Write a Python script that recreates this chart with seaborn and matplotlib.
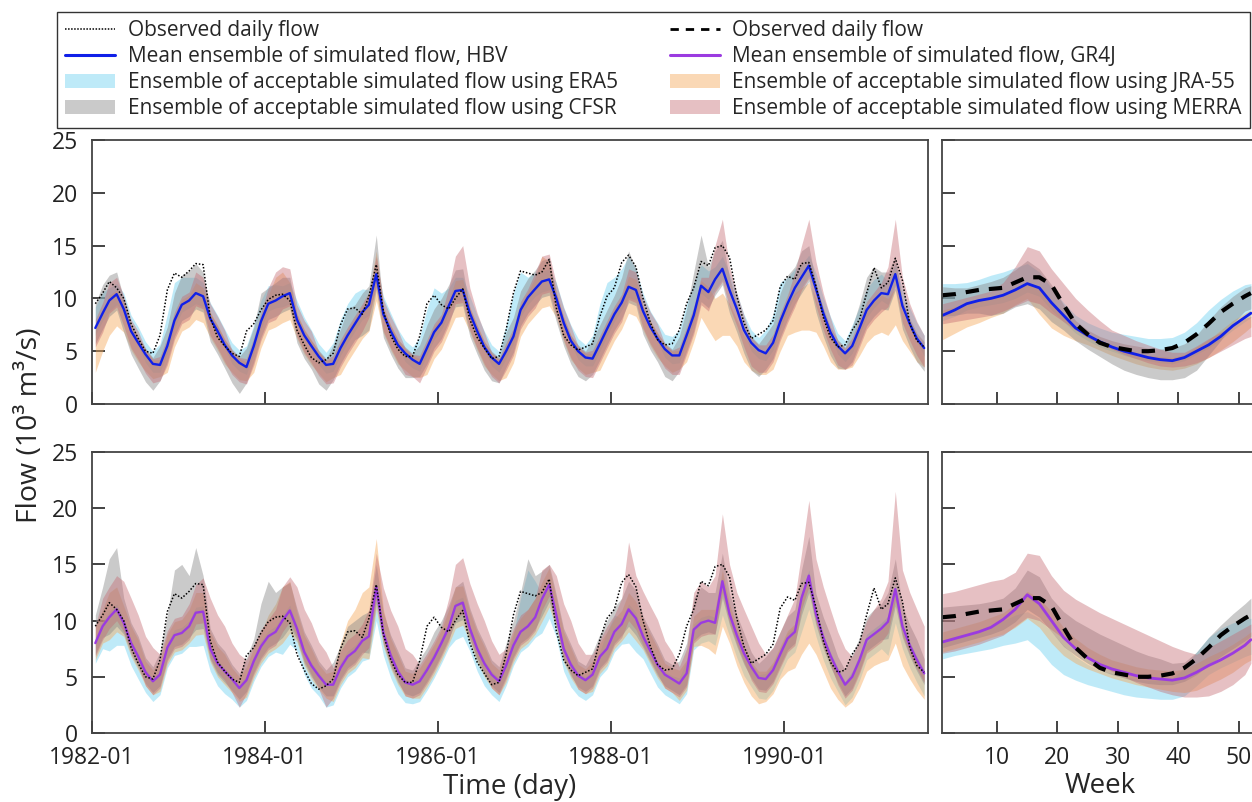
import numpy as np
import pandas as pd
import matplotlib
matplotlib.use("Agg")
import matplotlib.pyplot as plt
import seaborn as sns
from matplotlib.patches import Patch
from matplotlib.lines import Line2D

# ---------------- data ----------------
first_month = "1982-01"
tick_labels = ["1982-01", "1984-01", "1986-01", "1988-01", "1990-01"]

obs_daily = [9.5, 10.5, 11.6, 11.0, 10.0, 7.6, 6.2, 5.0, 4.8, 6.5, 10.8, 12.4,
             12.0, 12.6, 13.3, 13.2, 8.2, 6.3, 5.5, 4.8, 4.5, 6.9, 7.6, 8.9,
             9.9, 10.3, 10.4, 9.8, 7.0, 5.6, 4.4, 3.9, 4.2, 4.8, 7.5, 9.0,
             9.1, 8.5, 10.2, 13.2, 8.8, 6.5, 5.2, 4.5, 4.5, 6.4, 9.5, 10.3,
             9.4, 9.0, 10.0, 10.9, 8.0, 6.3, 5.3, 4.3, 4.5, 7.0, 10.5, 12.6,
             12.4, 12.2, 12.5, 13.7, 9.1, 6.5, 5.6, 5.1, 5.4, 5.7, 8.3, 10.2,
             11.0, 13.4, 14.1, 13.0, 10.0, 7.7, 6.1, 5.6, 5.7, 7.0, 9.5, 11.0,
             13.5, 13.1, 14.8, 15.0, 13.9, 10.2, 7.7, 6.2, 6.6, 7.0, 7.9, 11.1,
             12.1, 11.8, 13.3, 13.4, 11.2, 8.2, 6.3, 5.4, 5.6, 7.0, 8.0, 10.5,
             12.9, 11.0, 11.5, 13.8, 11.7, 7.6, 6.0, 5.4]

hbv_mean = [7.2, 8.6, 9.8, 10.4, 9.0, 6.9, 5.8, 4.7, 3.8, 3.7, 5.5, 7.9,
            9.4, 9.8, 10.5, 10.2, 8.1, 6.9, 5.6, 4.6, 3.9, 3.5, 5.5, 7.8,
            9.5, 9.8, 10.2, 10.5, 8.0, 6.5, 5.5, 4.5, 3.7, 3.8, 5.3, 6.5,
            7.6, 8.7, 9.4, 12.3, 8.5, 6.9, 5.6, 4.8, 4.2, 3.8, 5.3, 6.8,
            7.7, 9.3, 10.7, 10.8, 8.6, 6.9, 5.4, 4.4, 3.8, 5.0, 6.4, 8.9,
            10.1, 10.9, 11.6, 11.8, 10.0, 7.7, 6.0, 5.0, 4.4, 4.3, 5.7, 7.1,
            8.5, 9.6, 11.1, 10.8, 8.8, 7.3, 6.2, 5.2, 4.6, 4.6, 6.5, 8.4,
            11.2, 10.6, 11.8, 12.8, 10.8, 9.0, 7.0, 5.8, 5.1, 4.8, 5.8, 7.8,
            9.5, 11.0, 12.0, 13.1, 10.9, 8.6, 6.8, 5.5, 4.8, 5.5, 7.2, 8.9,
            9.8, 10.5, 10.4, 12.3, 9.3, 7.6, 6.2, 5.3]

gr4j_mean = [8.0, 9.5, 10.3, 11.0, 9.8, 8.0, 6.8, 5.4, 4.6, 5.2, 7.6, 8.7,
             8.9, 9.5, 10.7, 10.8, 7.5, 6.2, 5.5, 4.8, 4.0, 4.7, 6.4, 7.7,
             8.6, 9.0, 10.0, 10.9, 9.3, 7.2, 6.0, 5.1, 4.3, 4.3, 5.8, 6.8,
             7.3, 8.2, 8.6, 13.0, 8.9, 6.9, 5.5, 4.5, 4.3, 4.6, 5.6, 6.7,
             8.0, 9.4, 11.3, 11.6, 9.3, 7.5, 6.2, 5.2, 4.6, 6.0, 7.8, 9.0,
             9.5, 10.3, 11.9, 13.2, 10.5, 7.5, 6.1, 5.1, 4.7, 5.2, 6.8, 7.5,
             9.0, 9.7, 11.0, 10.2, 8.6, 7.3, 6.1, 5.2, 4.8, 4.4, 5.3, 9.2,
             9.8, 10.0, 9.8, 13.5, 10.6, 8.7, 7.1, 5.9, 4.9, 4.8, 5.6, 7.0,
             8.4, 9.0, 12.0, 14.0, 10.6, 8.5, 6.9, 5.5, 4.3, 5.0, 6.5, 8.3,
             8.8, 9.3, 9.9, 12.8, 9.5, 7.8, 6.5, 5.3]

# HBV ensembles (lower / upper envelope)
hbv_era5_lo = [6.5, 7.9, 8.8, 9.4, 8.7, 6.6, 5.5, 3.9, 3.0, 3.0, 4.8, 7.2,
               8.7, 9.1, 9.5, 9.2, 7.8, 6.6, 5.3, 3.8, 3.1, 2.8, 4.8, 7.1,
               8.8, 9.1, 9.2, 9.5, 7.7, 6.2, 5.2, 3.7, 2.9, 3.1, 4.6, 5.8,
               6.9, 8.0, 8.4, 11.3, 8.2, 6.6, 5.3, 4.0, 3.4, 3.1, 4.6, 6.1,
               7.0, 8.6, 9.7, 9.8, 8.3, 6.6, 5.1, 3.6, 3.0, 4.3, 5.7, 8.2,
               9.4, 10.2, 10.6, 10.8, 9.7, 7.4, 5.7, 4.2, 3.6, 3.6, 5.0, 6.4,
               7.8, 8.9, 10.1, 9.8, 8.5, 7.0, 5.9, 4.4, 3.8, 3.9, 5.8, 7.7,
               10.5, 9.9, 10.8, 11.8, 10.5, 8.7, 6.7, 5.0, 4.3, 4.1, 5.1, 7.1,
               8.8, 10.3, 11.0, 12.1, 10.6, 8.3, 6.5, 4.7, 4.0, 4.8, 6.5, 8.2,
               9.1, 9.8, 9.4, 11.3, 9.0, 7.3, 5.9, 4.5]
hbv_era5_hi = [9.2, 10.6, 11.0, 11.4, 10.5, 8.4, 7.3, 5.9, 5.0, 5.7, 8.5, 11.5,
               12.0, 12.0, 12.0, 11.5, 9.6, 8.4, 7.1, 5.8, 5.1, 5.5, 7.5, 9.8,
               11.2, 11.3, 11.2, 11.5, 9.8, 8.2, 7.0, 5.7, 4.9, 5.8, 8.0, 9.5,
               10.5, 10.9, 10.8, 13.5, 10.2, 8.6, 7.1, 6.0, 5.4, 6.3, 9.0, 11.0,
               10.5, 11.0, 12.0, 12.0, 10.2, 8.4, 6.9, 5.6, 5.0, 7.5, 10.5, 12.5,
               12.0, 12.5, 12.6, 12.8, 11.5, 9.2, 7.5, 6.2, 5.6, 6.5, 9.5, 11.5,
               12.0, 12.8, 14.0, 12.8, 10.5, 8.8, 7.7, 6.6, 6.4, 7.0, 9.5, 11.5,
               13.2, 12.6, 13.0, 14.0, 12.3, 10.5, 8.5, 7.0, 6.3, 7.0, 8.5, 11.5,
               12.0, 12.8, 13.2, 14.1, 12.4, 10.1, 8.3, 6.7, 6.0, 7.5, 9.2, 10.9,
               11.8, 12.3, 11.6, 13.3, 10.8, 9.1, 7.7, 6.5]
hbv_cfsr_lo = [5.7, 7.1, 8.3, 8.9, 6.8, 4.7, 3.4, 2.1, 1.3, 2.2, 4.0, 6.4,
               7.9, 8.3, 9.0, 8.7, 5.9, 4.7, 3.4, 2.0, 1.0, 2.0, 4.0, 6.3,
               8.0, 8.3, 8.7, 9.0, 5.8, 4.3, 3.3, 1.9, 1.3, 2.3, 3.8, 5.0,
               6.1, 6.5, 7.0, 10.8, 6.3, 4.7, 3.4, 2.5, 2.5, 2.6, 3.8, 5.3,
               6.2, 7.8, 9.2, 9.3, 6.4, 4.7, 3.2, 2.2, 2.0, 3.5, 4.9, 7.4,
               8.6, 9.4, 10.1, 10.3, 7.8, 5.5, 3.8, 2.6, 2.2, 2.8, 4.2, 5.6,
               7.0, 8.1, 9.6, 9.3, 6.6, 5.1, 4.0, 2.6, 2.2, 3.1, 5.0, 6.9,
               9.7, 9.1, 10.3, 11.3, 8.6, 6.8, 4.8, 3.2, 2.6, 3.3, 4.3, 6.3,
               8.0, 9.5, 10.5, 11.6, 8.7, 6.4, 4.6, 3.4, 3.3, 4.0, 5.7, 7.4,
               8.3, 9.0, 8.9, 10.8, 7.1, 5.4, 4.0, 3.1]
hbv_cfsr_hi = [9.5, 11.3, 12.2, 12.5, 10.0, 7.6, 6.4, 5.3, 4.4, 5.5, 7.3, 10.5,
               12.2, 12.6, 13.3, 12.5, 8.6, 7.4, 6.1, 5.2, 4.5, 5.3, 7.3, 10.5,
               11.0, 11.5, 12.0, 12.0, 8.5, 7.0, 6.0, 5.1, 4.3, 5.6, 7.1, 9.0,
               9.4, 10.5, 11.2, 16.0, 9.0, 7.4, 6.1, 5.4, 4.8, 5.6, 7.5, 9.0,
               10.0, 11.3, 12.7, 12.8, 9.1, 7.4, 5.9, 5.0, 4.4, 6.8, 8.2, 10.7,
               11.9, 12.7, 13.6, 13.8, 10.5, 8.2, 6.5, 5.6, 5.0, 6.1, 7.5, 8.9,
               10.3, 12.0, 14.5, 12.8, 9.3, 7.8, 6.7, 5.8, 5.2, 6.4, 9.0, 12.5,
               16.0, 13.0, 14.5, 15.5, 12.0, 9.5, 7.5, 6.4, 5.7, 6.6, 7.6, 10.5,
               12.2, 13.0, 14.5, 15.0, 11.4, 9.1, 7.3, 6.1, 5.4, 7.3, 9.5, 12.0,
               13.0, 12.5, 12.5, 14.0, 9.8, 8.1, 6.7, 5.9]
hbv_jra_lo = [3.0, 5.0, 6.5, 7.4, 6.8, 5.1, 4.0, 3.1, 2.4, 2.6, 3.0, 5.4,
              6.9, 7.3, 8.0, 7.7, 6.3, 5.1, 3.8, 3.0, 2.3, 2.2, 3.0, 5.3,
              7.0, 7.3, 7.7, 8.0, 6.2, 4.7, 3.7, 2.9, 2.1, 2.5, 2.8, 4.0,
              5.1, 6.2, 6.9, 9.8, 6.7, 5.1, 3.8, 3.2, 2.6, 2.5, 2.8, 4.3,
              5.2, 6.8, 8.2, 8.3, 6.8, 5.1, 3.6, 2.8, 2.2, 2.5, 3.9, 6.4,
              7.6, 8.4, 9.1, 9.3, 8.2, 5.9, 4.2, 3.4, 2.8, 3.0, 3.2, 4.6,
              6.0, 7.1, 8.6, 8.3, 7.0, 5.5, 4.4, 3.6, 3.0, 3.3, 4.0, 5.9,
              8.2, 7.0, 6.0, 6.5, 6.5, 5.5, 4.0, 3.2, 2.8, 2.8, 3.3, 5.0,
              6.5, 6.8, 7.0, 7.0, 6.8, 5.5, 4.0, 3.3, 3.3, 3.5, 4.6, 5.8,
              6.5, 6.8, 6.5, 7.5, 6.0, 5.0, 4.0, 3.5]
hbv_jra_hi = [7.0, 9.0, 10.3, 10.8, 9.6, 7.5, 6.4, 5.1, 4.2, 4.2, 6.0, 8.4,
              9.9, 10.3, 11.5, 11.0, 8.7, 7.5, 6.2, 5.0, 4.3, 4.0, 6.0, 8.3,
              10.3, 12.0, 12.5, 11.5, 8.6, 7.1, 6.1, 4.9, 4.1, 4.3, 5.8, 7.0,
              8.1, 9.2, 10.5, 14.5, 9.3, 7.5, 6.2, 5.2, 4.6, 4.3, 5.8, 7.3,
              8.2, 9.8, 11.7, 11.8, 9.2, 7.5, 6.0, 4.8, 4.2, 5.5, 6.9, 9.4,
              10.6, 12.0, 14.0, 13.5, 10.6, 8.3, 6.6, 5.4, 4.8, 4.8, 6.2, 7.6,
              9.0, 10.1, 12.1, 11.8, 9.4, 7.9, 6.8, 5.6, 5.0, 5.1, 7.0, 8.9,
              11.7, 11.1, 10.0, 10.5, 9.5, 8.0, 6.5, 5.5, 4.9, 5.0, 6.3, 8.3,
              9.5, 10.5, 11.0, 11.5, 10.0, 8.0, 6.5, 5.3, 4.8, 5.8, 7.6, 9.2,
              9.8, 10.3, 10.0, 11.0, 8.8, 7.4, 6.3, 5.3]
hbv_merra_lo = [5.4, 6.8, 8.6, 9.2, 7.4, 5.3, 4.2, 2.9, 2.0, 2.2, 3.7, 6.1,
                7.6, 8.0, 9.3, 9.0, 6.5, 5.3, 4.0, 2.8, 2.1, 1.9, 3.7, 6.0,
                7.7, 8.0, 9.0, 9.3, 6.4, 4.9, 3.9, 2.7, 1.9, 2.0, 3.5, 4.7,
                5.8, 6.9, 8.2, 11.1, 6.9, 5.3, 4.0, 2.8, 2.6, 2.0, 3.5, 5.0,
                5.9, 7.5, 9.5, 9.6, 7.0, 5.3, 3.8, 2.6, 2.0, 3.2, 4.6, 7.1,
                8.3, 9.1, 10.4, 10.6, 8.4, 6.1, 4.4, 3.2, 2.6, 2.5, 3.9, 5.3,
                6.7, 7.8, 9.9, 9.6, 7.2, 5.7, 4.6, 3.4, 2.8, 2.8, 4.7, 6.6,
                9.4, 8.8, 10.6, 11.6, 9.2, 7.4, 5.4, 3.6, 3.0, 3.0, 4.0, 6.0,
                7.7, 9.2, 10.8, 11.9, 9.3, 7.0, 5.2, 3.7, 3.3, 3.7, 5.4, 7.1,
                8.0, 8.7, 9.2, 11.1, 7.7, 6.0, 4.6, 3.5]
hbv_merra_hi = [8.0, 9.6, 11.5, 12.0, 10.2, 8.0, 6.9, 5.2, 4.3, 4.5, 6.3, 8.7,
                10.2, 10.6, 12.5, 12.0, 9.5, 8.3, 7.0, 5.1, 4.4, 4.3, 6.3, 8.6,
                11.0, 12.5, 13.0, 12.8, 9.4, 7.9, 6.9, 5.0, 4.2, 4.6, 6.1, 7.3,
                8.4, 9.5, 10.6, 14.0, 9.9, 8.3, 7.0, 5.3, 4.7, 4.6, 6.1, 7.6,
                8.5, 11.0, 14.0, 15.0, 11.0, 8.6, 6.8, 4.9, 4.3, 5.8, 7.2, 9.7,
                10.9, 12.5, 14.0, 14.2, 11.4, 9.1, 7.4, 5.5, 4.9, 5.1, 6.5, 7.9,
                9.3, 10.4, 12.8, 12.5, 10.2, 8.7, 7.6, 5.7, 5.1, 5.4, 7.3, 9.2,
                12.0, 12.0, 15.0, 17.5, 13.0, 10.5, 8.4, 6.3, 5.6, 5.6, 6.6, 8.6,
                10.3, 12.5, 15.0, 17.5, 13.5, 10.5, 8.2, 6.0, 5.3, 6.3, 8.0, 9.7,
                10.6, 11.5, 13.0, 17.5, 12.0, 9.5, 7.8, 6.5]

# GR4J ensembles
gr4j_era5_lo = [6.2, 7.5, 7.3, 7.8, 7.8, 6.0, 4.8, 3.6, 2.8, 3.4, 5.8, 6.9,
                7.1, 7.7, 7.7, 7.8, 5.5, 4.2, 3.5, 3.0, 2.3, 2.9, 4.6, 5.9,
                6.8, 7.2, 7.0, 7.9, 7.3, 5.2, 4.0, 3.3, 2.3, 2.5, 4.0, 5.0,
                5.5, 6.4, 6.6, 10.0, 6.9, 4.9, 3.5, 2.7, 2.6, 2.8, 3.8, 4.9,
                6.2, 7.6, 8.3, 8.6, 7.3, 5.5, 4.2, 3.4, 2.8, 4.2, 6.0, 7.2,
                7.7, 8.5, 8.9, 10.2, 8.5, 5.5, 4.1, 3.3, 2.9, 3.4, 5.0, 5.7,
                7.2, 7.9, 8.0, 7.2, 6.6, 5.3, 4.1, 3.4, 3.0, 2.6, 3.5, 7.4,
                8.0, 8.2, 7.8, 10.5, 8.6, 6.7, 5.1, 4.1, 3.1, 3.0, 3.8, 5.2,
                6.6, 7.2, 9.0, 11.0, 8.6, 6.5, 4.9, 3.7, 2.5, 3.2, 4.7, 6.5,
                7.0, 7.5, 6.9, 9.8, 7.5, 5.8, 4.5, 3.3]
gr4j_era5_hi = [8.5, 10.0, 10.8, 11.5, 10.1, 8.3, 7.1, 5.7, 4.9, 5.7, 8.1, 9.2,
                9.4, 10.0, 11.2, 11.3, 7.8, 6.5, 5.8, 5.1, 4.3, 5.2, 6.9, 8.2,
                9.1, 9.5, 10.5, 11.4, 9.6, 7.5, 6.3, 5.4, 4.6, 4.8, 6.3, 7.3,
                7.8, 8.7, 9.1, 13.5, 9.2, 7.2, 5.8, 4.8, 4.6, 5.1, 6.1, 7.2,
                8.5, 9.9, 11.8, 12.1, 9.6, 7.8, 6.5, 5.5, 4.9, 6.5, 8.8, 12.0,
                14.5, 13.5, 12.4, 13.7, 10.8, 7.8, 6.4, 5.4, 5.0, 5.7, 7.3, 9.0,
                10.5, 10.2, 11.5, 10.7, 8.9, 7.6, 6.4, 5.5, 5.1, 4.9, 6.5, 9.7,
                10.3, 10.5, 10.3, 14.0, 10.9, 9.0, 7.4, 6.2, 5.2, 5.3, 6.1, 7.5,
                8.9, 9.5, 12.5, 14.5, 10.9, 8.8, 7.2, 5.8, 4.6, 5.5, 7.0, 8.8,
                9.3, 9.8, 10.4, 13.3, 9.8, 8.1, 6.8, 5.6]
gr4j_cfsr_lo = [7.0, 8.5, 8.8, 9.5, 8.8, 7.0, 5.8, 4.4, 3.6, 4.2, 6.6, 7.7,
                7.9, 8.5, 9.2, 9.3, 6.5, 5.2, 4.5, 3.8, 3.0, 3.7, 5.4, 6.7,
                7.6, 8.0, 8.5, 9.4, 8.3, 6.2, 5.0, 4.1, 3.3, 3.3, 4.8, 5.8,
                6.3, 7.2, 7.1, 11.5, 7.9, 5.9, 4.5, 3.5, 3.3, 3.6, 4.6, 5.7,
                7.0, 8.4, 9.8, 10.1, 8.3, 6.5, 5.2, 4.2, 3.6, 5.0, 6.8, 8.0,
                8.5, 9.3, 10.4, 11.7, 9.5, 6.5, 5.1, 4.1, 3.7, 4.2, 5.8, 6.5,
                8.0, 8.7, 9.5, 8.7, 7.6, 6.3, 5.1, 4.2, 3.8, 3.4, 4.3, 8.2,
                8.8, 9.0, 8.8, 12.0, 9.6, 7.7, 6.1, 4.9, 3.9, 3.8, 4.6, 6.0,
                7.4, 8.0, 10.5, 12.5, 9.6, 7.5, 5.9, 4.5, 3.3, 4.0, 5.5, 7.3,
                7.8, 8.3, 8.4, 11.3, 8.5, 6.8, 5.5, 4.3]
gr4j_cfsr_hi = [10.5, 13.0, 15.5, 16.5, 12.0, 9.8, 8.6, 6.7, 5.9, 7.2, 10.5, 14.5,
                15.0, 14.0, 16.5, 14.0, 9.3, 8.0, 7.3, 6.1, 5.3, 6.7, 8.4, 11.5,
                13.5, 12.5, 13.0, 13.4, 11.1, 9.0, 7.8, 6.4, 5.6, 6.3, 7.8, 9.5,
                10.0, 10.5, 10.8, 15.0, 10.7, 8.7, 7.3, 5.8, 5.6, 6.6, 7.6, 9.0,
                10.0, 11.4, 13.0, 13.5, 11.1, 9.3, 8.0, 6.5, 5.9, 8.0, 10.0, 12.5,
                15.5, 14.0, 14.4, 15.0, 12.3, 9.3, 7.9, 6.4, 6.0, 7.2, 8.8, 10.0,
                11.2, 12.0, 13.5, 12.7, 10.4, 9.1, 7.9, 6.5, 6.1, 6.4, 8.0, 12.0,
                13.0, 12.5, 12.5, 16.0, 12.4, 10.5, 8.9, 7.2, 6.2, 6.8, 7.6, 9.0,
                10.4, 11.0, 14.5, 17.5, 12.4, 10.3, 8.7, 6.8, 5.6, 7.0, 8.5, 10.3,
                11.0, 11.5, 12.5, 15.5, 11.3, 9.6, 8.3, 6.6]
gr4j_jra_lo = [6.5, 8.0, 8.3, 9.0, 8.6, 6.8, 5.6, 4.2, 3.4, 3.7, 6.1, 7.2,
               7.4, 8.0, 8.7, 8.8, 6.3, 5.0, 4.3, 3.6, 2.8, 3.2, 4.9, 6.2,
               7.1, 7.5, 8.0, 8.9, 8.1, 6.0, 4.8, 3.9, 3.1, 2.8, 4.3, 5.3,
               5.8, 6.7, 6.6, 11.0, 7.7, 5.7, 4.3, 3.3, 3.1, 3.1, 4.1, 5.2,
               6.5, 7.9, 9.3, 9.6, 8.1, 6.3, 5.0, 4.0, 3.4, 4.5, 6.3, 7.5,
               8.0, 8.8, 9.9, 11.2, 9.3, 6.3, 4.9, 3.9, 3.5, 3.7, 5.3, 6.0,
               7.5, 8.2, 9.0, 8.2, 7.4, 6.1, 4.9, 4.0, 3.6, 2.9, 3.8, 7.7,
               7.8, 7.5, 7.0, 9.5, 8.0, 6.0, 4.5, 3.3, 2.6, 2.8, 3.5, 4.8,
               5.5, 5.8, 7.0, 8.0, 7.0, 5.5, 4.0, 3.0, 2.3, 2.8, 4.0, 5.5,
               6.0, 6.3, 6.5, 8.0, 6.0, 4.8, 3.8, 3.0]
gr4j_jra_hi = [9.5, 11.0, 12.5, 13.0, 11.3, 9.5, 8.3, 6.4, 5.6, 6.4, 8.8, 9.9,
               10.1, 11.0, 12.5, 12.5, 9.0, 7.7, 7.0, 5.8, 5.0, 5.9, 7.6, 8.9,
               10.5, 11.5, 13.0, 13.5, 10.8, 8.7, 7.5, 6.1, 5.3, 5.5, 8.0, 10.0,
               11.0, 12.5, 13.0, 17.3, 11.0, 8.4, 7.0, 5.5, 5.3, 5.8, 6.8, 7.9,
               9.2, 11.0, 13.0, 13.1, 10.8, 9.0, 7.7, 6.2, 5.6, 7.2, 9.0, 10.2,
               11.0, 12.0, 13.4, 14.7, 12.0, 9.0, 7.6, 6.1, 5.7, 6.4, 8.0, 9.0,
               10.2, 10.9, 12.5, 11.7, 10.1, 8.8, 7.6, 6.2, 5.8, 5.6, 6.5, 10.4,
               11.0, 11.0, 11.0, 14.5, 11.5, 9.5, 7.8, 6.3, 5.5, 5.5, 6.3, 7.7,
               9.1, 9.7, 12.5, 13.5, 10.5, 8.5, 7.0, 5.5, 4.5, 5.0, 6.5, 8.0,
               8.8, 9.3, 10.0, 12.5, 9.0, 7.5, 6.3, 5.2]
gr4j_merra_lo = [6.8, 8.3, 9.3, 10.0, 9.0, 7.2, 6.0, 4.2, 3.4, 4.0, 6.4, 7.5,
                 7.7, 8.3, 9.7, 9.8, 6.7, 5.4, 4.7, 3.6, 2.3, 3.5, 5.2, 6.5,
                 7.4, 7.8, 9.0, 9.9, 8.5, 6.4, 5.2, 3.9, 2.3, 3.1, 4.6, 5.6,
                 6.1, 7.0, 7.6, 12.0, 8.1, 6.1, 4.7, 3.3, 3.1, 3.4, 4.4, 5.5,
                 6.8, 8.2, 10.3, 10.6, 8.5, 6.7, 5.4, 4.0, 3.4, 4.8, 6.6, 7.8,
                 8.3, 9.1, 10.9, 12.2, 9.7, 6.7, 5.3, 3.9, 3.5, 4.0, 5.6, 6.3,
                 7.8, 8.5, 10.0, 9.2, 7.8, 6.5, 5.3, 4.0, 3.6, 3.2, 4.1, 8.0,
                 8.6, 8.8, 8.8, 12.5, 9.8, 7.9, 6.3, 4.7, 3.7, 3.6, 4.4, 5.8,
                 7.2, 7.8, 11.0, 13.0, 9.8, 7.7, 6.1, 4.3, 3.1, 3.8, 5.3, 7.1,
                 7.6, 8.1, 8.9, 11.8, 8.7, 7.0, 5.7, 4.5]
gr4j_merra_hi = [9.5, 12.0, 13.0, 14.0, 13.5, 12.0, 10.5, 8.6, 7.6, 7.0, 9.1, 10.2,
                 10.4, 11.5, 13.2, 13.8, 12.0, 10.5, 9.5, 8.0, 7.0, 6.5, 7.9, 9.2,
                 10.1, 11.0, 13.0, 13.9, 13.0, 11.0, 9.8, 8.1, 7.2, 5.8, 7.3, 8.3,
                 8.8, 9.7, 11.0, 16.0, 12.9, 10.9, 9.5, 7.5, 7.0, 6.1, 7.1, 8.2,
                 9.5, 12.0, 15.0, 15.6, 13.3, 11.5, 10.0, 8.2, 7.0, 7.5, 9.3, 10.5,
                 11.0, 12.0, 14.5, 15.0, 14.0, 11.5, 10.0, 8.0, 7.0, 7.0, 8.3, 9.5,
                 10.5, 12.0, 17.0, 14.0, 12.6, 11.3, 10.1, 8.2, 7.2, 5.9, 7.5, 12.5,
                 13.5, 13.0, 14.0, 19.5, 15.0, 12.5, 11.0, 9.5, 8.0, 7.0, 7.6, 9.0,
                 10.5, 12.0, 16.0, 20.7, 15.5, 13.0, 11.0, 9.0, 7.5, 6.8, 8.2, 10.0,
                 11.0, 12.0, 13.5, 21.5, 14.5, 12.5, 11.0, 9.5]

# Weekly climatology
weeks = [1, 3, 5, 7, 9, 11, 13, 15, 17, 19, 21, 23, 25, 27, 29, 31, 33, 35,
         37, 39, 41, 43, 45, 47, 49, 51, 52]
obs_weekly = [10.3, 10.4, 10.6, 10.8, 10.9, 11.0, 11.5, 12.0, 12.0, 11.3, 9.4, 7.6,
              6.6, 5.8, 5.4, 5.2, 5.0, 5.0, 5.1, 5.3, 5.8, 6.6, 7.6, 8.7, 9.5, 10.2, 10.5]
hbv_week = [8.4, 8.9, 9.5, 9.8, 10.0, 10.3, 10.8, 11.4, 11.0, 9.6, 8.4, 7.2, 6.5,
            5.9, 5.4, 5.0, 4.7, 4.4, 4.2, 4.1, 4.4, 5.0, 5.6, 6.4, 7.4, 8.2, 8.6]
gr4j_week = [8.1, 8.4, 8.7, 9.0, 9.4, 10.1, 11.0, 12.3, 11.5, 10.0, 8.5, 7.5, 6.7,
             6.1, 5.7, 5.4, 5.1, 4.9, 4.8, 4.7, 4.9, 5.4, 6.0, 6.5, 7.1, 7.8, 8.3]

hbv_w_era5_lo = [7.9, 8.3, 8.9, 9.2, 9.4, 9.6, 10.0, 10.6, 10.2, 8.9, 7.8, 6.7, 6.0, 5.4,
                 5.0, 4.6, 4.3, 4.1, 3.9, 3.8, 4.1, 4.7, 5.3, 6.1, 7.0, 7.8, 8.2]
hbv_w_era5_hi = [11.4, 11.4, 11.5, 11.8, 12.2, 12.5, 12.9, 13.3, 12.5, 11.0, 9.6, 8.4, 7.7,
                 7.2, 6.8, 6.6, 6.4, 6.2, 6.2, 6.3, 6.8, 7.7, 8.9, 9.9, 10.7, 11.3, 11.4]
hbv_w_cfsr_lo = [8.3, 8.4, 8.6, 8.6, 8.4, 8.6, 9.2, 9.5, 9.0, 7.8, 7.0, 6.0, 5.2, 4.5,
                 3.8, 3.2, 2.8, 2.5, 2.3, 2.3, 2.5, 3.2, 4.6, 6.0, 7.6, 8.8, 9.0]
hbv_w_cfsr_hi = [11.1, 11.0, 11.0, 11.3, 11.6, 12.0, 12.7, 13.6, 12.8, 11.3, 9.4, 7.9, 7.0,
                 6.4, 6.0, 5.7, 5.5, 5.3, 5.2, 5.3, 5.7, 6.5, 7.9, 9.2, 10.2, 11.0, 11.2]
hbv_w_jra_lo = [6.1, 6.7, 7.3, 7.7, 8.2, 8.6, 9.4, 10.0, 8.5, 7.2, 6.5, 6.0, 5.6, 5.1,
                4.6, 4.2, 3.8, 3.5, 3.3, 3.2, 3.4, 3.8, 4.4, 5.1, 5.9, 6.8, 7.3]
hbv_w_jra_hi = [8.9, 9.2, 9.6, 9.9, 10.1, 10.4, 10.9, 11.6, 11.0, 9.6, 8.4, 7.3, 6.6, 6.0,
                5.6, 5.2, 4.9, 4.6, 4.5, 4.4, 4.7, 5.4, 6.1, 7.0, 7.9, 8.6, 8.9]
hbv_w_merra_lo = [7.6, 7.8, 8.0, 8.2, 8.4, 8.8, 9.3, 9.8, 9.5, 8.6, 7.8, 7.0, 6.3, 5.7,
                  5.2, 4.7, 4.3, 3.9, 3.6, 3.5, 3.6, 3.9, 4.4, 5.0, 5.6, 6.2, 6.4]
hbv_w_merra_hi = [9.5, 9.8, 10.1, 10.4, 10.7, 11.5, 13.0, 14.9, 14.5, 12.8, 11.4, 10.0, 8.9,
                  7.9, 7.0, 6.5, 6.0, 5.6, 5.2, 4.9, 4.9, 5.5, 6.2, 6.8, 7.4, 8.1, 8.3]

gr4j_w_era5_lo = [6.6, 6.9, 7.1, 7.3, 7.5, 7.8, 8.0, 8.3, 7.4, 6.1, 5.2, 4.7, 4.3, 4.0,
                  3.7, 3.4, 3.2, 3.1, 3.0, 3.0, 3.3, 4.2, 5.2, 5.8, 6.3, 6.8, 7.0]
gr4j_w_era5_hi = [8.3, 8.6, 8.9, 9.2, 9.6, 10.0, 10.5, 10.8, 10.2, 9.0, 7.8, 6.8, 6.1, 5.6,
                  5.3, 5.0, 4.8, 4.7, 4.7, 4.9, 5.8, 7.2, 8.5, 9.3, 9.8, 10.1, 10.2]
gr4j_w_cfsr_lo = [7.6, 7.9, 8.2, 8.5, 8.8, 9.2, 9.9, 11.0, 10.3, 9.0, 7.7, 6.9, 6.2, 5.6,
                  5.2, 4.9, 4.6, 4.4, 4.3, 4.3, 4.6, 5.2, 6.0, 6.8, 7.5, 8.2, 8.6]
gr4j_w_cfsr_hi = [11.2, 11.3, 11.4, 11.5, 11.7, 12.0, 12.9, 14.5, 13.9, 12.0, 10.8, 10.0, 9.4,
                  8.8, 8.3, 7.8, 7.3, 6.9, 6.6, 6.2, 6.3, 7.2, 8.5, 9.6, 10.6, 11.5, 12.0]
gr4j_w_jra_lo = [7.2, 7.5, 7.8, 8.1, 8.5, 8.8, 9.4, 10.2, 9.4, 8.0, 6.9, 6.2, 5.7, 5.3,
                 4.9, 4.6, 4.3, 4.1, 3.9, 3.7, 3.6, 3.8, 4.3, 4.8, 5.4, 6.2, 6.5]
gr4j_w_jra_hi = [9.0, 9.3, 9.6, 9.9, 10.3, 10.7, 11.5, 12.6, 12.0, 10.8, 9.4, 8.4, 7.6, 7.0,
                 6.5, 6.2, 5.9, 5.7, 5.6, 5.5, 5.7, 6.2, 6.8, 7.3, 7.9, 8.6, 9.0]
gr4j_w_merra_lo = [7.1, 7.3, 7.6, 7.9, 8.3, 8.7, 9.5, 10.3, 10.0, 9.2, 8.4, 7.6, 6.8, 6.1,
                   5.5, 5.0, 4.5, 4.1, 3.7, 3.4, 3.2, 3.2, 3.3, 3.7, 4.3, 5.2, 6.2]
gr4j_w_merra_hi = [12.4, 12.6, 12.9, 13.2, 13.5, 13.7, 14.3, 16.0, 15.8, 14.0, 12.7, 11.9, 11.3,
                   10.7, 10.2, 9.7, 9.2, 8.7, 8.2, 7.7, 7.3, 7.0, 7.6, 8.2, 8.8, 9.4, 9.7]

# ---------------- styling ----------------
sns.set_theme(style="ticks")
plt.rcParams["font.family"] = ["Open Sans", "DejaVu Sans"]
plt.rcParams["axes.linewidth"] = 1.3

W, H = 1252, 802
fig = plt.figure(figsize=(W / 100, H / 100), dpi=100)


def rect(l, t, r, b):
    return [l / W, 1 - b / H, (r - l) / W, (b - t) / H]


ax_tl = fig.add_axes(rect(92, 140, 928, 404))
ax_bl = fig.add_axes(rect(92, 452, 928, 733))
ax_tr = fig.add_axes(rect(942, 140, 1263, 404))
ax_br = fig.add_axes(rect(942, 452, 1263, 733))

col_era5 = "#7fd6f2"
col_cfsr = "#8a8a8a"
col_jra = "#f6a95c"
col_merra = "#c46a72"
a_era5, a_cfsr, a_jra, a_merra = 0.5, 0.45, 0.45, 0.42
col_hbv = "#1020e8"
col_gr4j = "#9b3be0"

months = pd.date_range(first_month + "-01", periods=len(obs_daily), freq="MS") + pd.Timedelta(days=14)


def draw_bands(ax, x, bands):
    for lo, hi, c, a in bands:
        ax.fill_between(x, lo, hi, color=c, alpha=a, lw=0)


top_bands = [(hbv_era5_lo, hbv_era5_hi, col_era5, a_era5),
             (hbv_jra_lo, hbv_jra_hi, col_jra, a_jra),
             (hbv_cfsr_lo, hbv_cfsr_hi, col_cfsr, a_cfsr),
             (hbv_merra_lo, hbv_merra_hi, col_merra, a_merra)]
bot_bands = [(gr4j_era5_lo, gr4j_era5_hi, col_era5, a_era5),
             (gr4j_jra_lo, gr4j_jra_hi, col_jra, a_jra),
             (gr4j_cfsr_lo, gr4j_cfsr_hi, col_cfsr, a_cfsr),
             (gr4j_merra_lo, gr4j_merra_hi, col_merra, a_merra)]
top_wbands = [(hbv_w_era5_lo, hbv_w_era5_hi, col_era5, a_era5),
              (hbv_w_jra_lo, hbv_w_jra_hi, col_jra, a_jra),
              (hbv_w_cfsr_lo, hbv_w_cfsr_hi, col_cfsr, a_cfsr),
              (hbv_w_merra_lo, hbv_w_merra_hi, col_merra, a_merra)]
bot_wbands = [(gr4j_w_era5_lo, gr4j_w_era5_hi, col_era5, a_era5),
              (gr4j_w_jra_lo, gr4j_w_jra_hi, col_jra, a_jra),
              (gr4j_w_cfsr_lo, gr4j_w_cfsr_hi, col_cfsr, a_cfsr),
              (gr4j_w_merra_lo, gr4j_w_merra_hi, col_merra, a_merra)]

# time-series panels
for ax, bands, mean, col in [(ax_tl, top_bands, hbv_mean, col_hbv),
                             (ax_bl, bot_bands, gr4j_mean, col_gr4j)]:
    draw_bands(ax, months, bands)
    sns.lineplot(x=months, y=mean, ax=ax, color=col, lw=1.7)
    sns.lineplot(x=months, y=obs_daily, ax=ax, color="black", lw=1.1,
                 linestyle=(0, (1, 1.2)))
    ax.set_xlim(pd.Timestamp("1982-01-01"), pd.Timestamp("1991-08-31"))

# weekly panels
for ax, bands, mean, col in [(ax_tr, top_wbands, hbv_week, col_hbv),
                             (ax_br, bot_wbands, gr4j_week, col_gr4j)]:
    draw_bands(ax, weeks, bands)
    sns.lineplot(x=weeks, y=mean, ax=ax, color=col, lw=2.0)
    sns.lineplot(x=weeks, y=obs_weekly, ax=ax, color="black", lw=3.0,
                 linestyle=(0, (3.2, 2.4)))
    ax.set_xlim(0.9, 54)

tick_pos = pd.to_datetime(tick_labels)
for ax in [ax_tl, ax_bl, ax_tr, ax_br]:
    ax.set_ylim(0, 25)
    ax.set_yticks([0, 5, 10, 15, 20, 25])
    ax.set_xlabel("")
    ax.set_ylabel("")
    ax.tick_params(direction="in", length=9, width=1.2, colors="#222222",
                   labelsize=16.5, top=False, right=False)
    ax.tick_params(axis="y", pad=10)
    ax.tick_params(axis="x", pad=9)
    for s in ax.spines.values():
        s.set_color("#444444")
        s.set_linewidth(1.3)
    ax.grid(False)

for ax in [ax_tl, ax_bl]:
    ax.set_xticks(tick_pos)
ax_bl.set_xticklabels(tick_labels)
ax_tl.set_xticklabels([])
for ax in [ax_tr, ax_br]:
    ax.set_xticks([10, 20, 30, 40, 50])
    ax.set_yticklabels([])
ax_tr.set_xticklabels([])
ax_br.set_xticklabels(["10", "20", "30", "40", "50"])

fig.text(30 / W, 1 - 425 / H, "Flow (10³ m³/s)", rotation=90, ha="center",
         va="center", fontsize=20.5)
fig.text(510 / W, 1 - 787 / H, "Time (day)", ha="center", va="center", fontsize=20)
fig.text(1100 / W, 1 - 786 / H, "Week", ha="center", va="center", fontsize=20)

# legend
handles = [
    Line2D([], [], color="black", lw=1.1, linestyle=(0, (1, 1))),
    Line2D([], [], color=col_hbv, lw=2.2),
    Patch(facecolor=col_era5, alpha=a_era5, lw=0),
    Patch(facecolor=col_cfsr, alpha=a_cfsr, lw=0),
    Line2D([], [], color="black", lw=2.0, linestyle=(0, (3, 2.5))),
    Line2D([], [], color=col_gr4j, lw=2.2),
    Patch(facecolor=col_jra, alpha=a_jra, lw=0),
    Patch(facecolor=col_merra, alpha=a_merra, lw=0),
]
labels = [
    "Observed daily flow",
    "Mean ensemble of simulated flow, HBV",
    "Ensemble of acceptable simulated flow using ERA5",
    "Ensemble of acceptable simulated flow using CFSR",
    "Observed daily flow",
    "Mean ensemble of simulated flow, GR4J",
    "Ensemble of acceptable simulated flow using JRA-55",
    "Ensemble of acceptable simulated flow using MERRA",
]
leg = fig.legend(handles, labels, ncol=2, loc="upper left",
                 bbox_to_anchor=(57 / W, 1 - 12 / H, (1250 - 57) / W, 0.0),
                 mode="expand", frameon=True, fancybox=False, edgecolor="#333333",
                 framealpha=1, borderpad=0.4, labelspacing=0.24, handlelength=2.4,
                 handletextpad=0.6, borderaxespad=0,
                 prop={"family": ["Open Sans", "DejaVu Sans"], "size": 15})
leg.get_frame().set_linewidth(1.0)

fig.savefig("out.png", dpi=100)
